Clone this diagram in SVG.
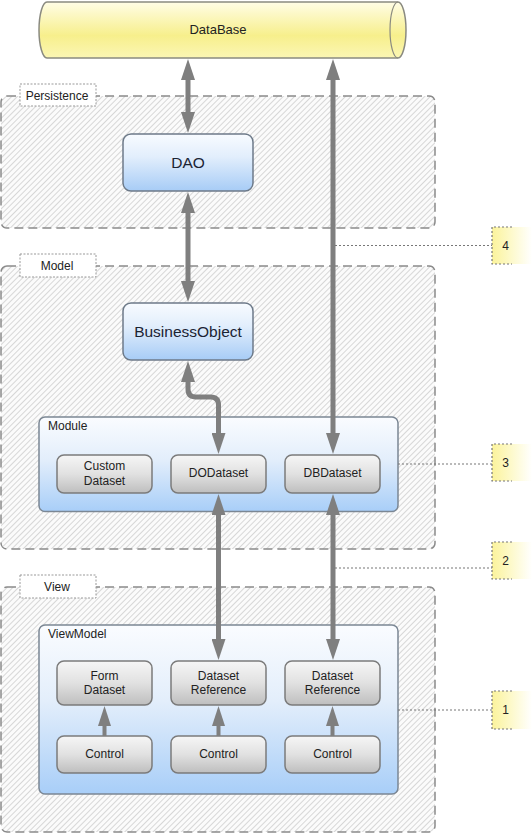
<svg xmlns="http://www.w3.org/2000/svg" width="532" height="834" viewBox="0 0 532 834">
<style>
text{font-family:"Liberation Sans",Arial,sans-serif;fill:#222;}
.c12{font-size:12px;text-anchor:middle;}
.big{font-size:15.5px;text-anchor:middle;fill:#1b2333;}
.lbl{font-size:12px;}
.cont{fill:url(#hatch);stroke:#8a8a8a;stroke-width:1.5;stroke-dasharray:9 5;}
.tag{fill:#fff;stroke:#999;stroke-width:1;stroke-dasharray:2 1.5;}
.node{fill:url(#nodeGrad);stroke:#6d7a89;stroke-width:1.5;}
.panel{fill:url(#panelGrad);stroke:#7b8794;stroke-width:1.5;}
.gray{fill:url(#grayGrad);stroke:#7b7b7b;stroke-width:1.5;}
.arr{fill:none;stroke:#7f7f7f;stroke-width:5;marker-start:url(#ah);marker-end:url(#ah);}
.arrs{fill:none;stroke:#7f7f7f;stroke-width:4;marker-end:url(#ahs);}
.note{fill:none;stroke:#777;stroke-width:1.2;stroke-dasharray:2 2;}
.notefill{fill:url(#noteGrad);}
</style>
<defs>
<pattern id="hatch" patternUnits="userSpaceOnUse" width="4" height="4" patternTransform="rotate(45)">
<rect width="4" height="4" fill="#fbfbfb"/>
<line x1="0.5" y1="0" x2="0.5" y2="4" stroke="#d2d2d2" stroke-width="0.9"/>
</pattern>
<linearGradient id="nodeGrad" x1="0" y1="0" x2="0" y2="1">
<stop offset="0" stop-color="#f8fbff"/><stop offset="0.4" stop-color="#e2eefc"/><stop offset="1" stop-color="#a7ccf6"/>
</linearGradient>
<linearGradient id="panelGrad" x1="0" y1="0" x2="0" y2="1">
<stop offset="0" stop-color="#fafcff"/><stop offset="0.45" stop-color="#e3eefb"/><stop offset="1" stop-color="#a8cef8"/>
</linearGradient>
<linearGradient id="grayGrad" x1="0" y1="0" x2="0" y2="1">
<stop offset="0" stop-color="#f6f6f6"/><stop offset="0.5" stop-color="#e1e1e1"/><stop offset="1" stop-color="#bebebe"/>
</linearGradient>
<linearGradient id="dbGrad" x1="0" y1="0" x2="0" y2="1">
<stop offset="0" stop-color="#fffde6"/><stop offset="0.6" stop-color="#f7ef8c"/><stop offset="1" stop-color="#fbf6b4"/>
</linearGradient>
<linearGradient id="noteGrad" gradientUnits="userSpaceOnUse" x1="492" y1="0" x2="532" y2="0">
<stop offset="0" stop-color="#fbf39c"/><stop offset="0.45" stop-color="#fdf9c8"/><stop offset="1" stop-color="#ffffff"/>
</linearGradient>
<marker id="ah" viewBox="0 0 21 14" refX="0" refY="7" markerWidth="21" markerHeight="14" markerUnits="userSpaceOnUse" orient="auto-start-reverse">
<path d="M0,0 L21,7 L0,14 Z" fill="#7f7f7f"/>
</marker>
<marker id="ahs" viewBox="0 0 20 13" refX="0" refY="6.5" markerWidth="20" markerHeight="13" markerUnits="userSpaceOnUse" orient="auto">
<path d="M0,0 L20,6.5 L0,13 Z" fill="#7f7f7f"/>
</marker>
</defs>

<g id="database">
<path d="M47,2 H398 A8,28 0 0 1 398,58 H47 A8,28 0 0 1 47,2 Z" fill="url(#dbGrad)" stroke="#8a8a80" stroke-width="1.5"/>
<path d="M398,2 A8,28 0 0 0 398,58" fill="none" stroke="#8a8a80" stroke-width="1.2"/>
<text x="218" y="34" class="c12" style="font-size:13px">DataBase</text>
</g>

<g id="persistence">
<rect x="1" y="96" width="434" height="132" rx="6" class="cont"/>
<rect x="20" y="84" width="76" height="22" class="tag"/>
<text x="57" y="99.5" class="c12">Persistence</text>
</g>

<g id="model">
<rect x="1" y="266" width="434" height="283" rx="6" class="cont"/>
<rect x="20" y="254" width="76" height="23" class="tag"/>
<text x="57" y="270" class="c12">Model</text>
</g>

<g id="view">
<rect x="1" y="587" width="434" height="245" rx="6" class="cont"/>
<rect x="20" y="575" width="76" height="23" class="tag"/>
<text x="57" y="591" class="c12">View</text>
</g>

<g id="dao">
<rect x="123" y="134" width="130" height="57" rx="8" class="node"/>
<text x="188" y="168" class="big">DAO</text>
</g>

<g id="businessobject">
<rect x="123" y="303" width="130" height="57" rx="8" class="node"/>
<text x="188" y="337" class="big">BusinessObject</text>
</g>

<g id="module">
<rect x="39" y="417" width="359" height="94.5" rx="6" class="panel"/>
<text x="48" y="430" class="lbl">Module</text>
</g>

<g id="customdataset">
<rect x="57" y="455" width="95" height="38" rx="7" class="gray"/>
<text x="104.5" y="470" class="c12">Custom</text>
<text x="104.5" y="484.5" class="c12">Dataset</text>
</g>

<g id="dodataset">
<rect x="171" y="455" width="95" height="38" rx="7" class="gray"/>
<text x="218.5" y="477" class="c12">DODataset</text>
</g>

<g id="dbdataset">
<rect x="285" y="455" width="95" height="38" rx="7" class="gray"/>
<text x="332.5" y="477" class="c12">DBDataset</text>
</g>

<g id="viewmodel">
<rect x="39" y="625" width="359" height="169" rx="6" class="panel"/>
<text x="48" y="637.5" class="lbl">ViewModel</text>
</g>

<g id="formdataset">
<rect x="57" y="661" width="95" height="44" rx="7" class="gray"/>
<text x="104.5" y="679.5" class="c12">Form</text>
<text x="104.5" y="694" class="c12">Dataset</text>
</g>

<g id="datasetref1">
<rect x="171" y="661" width="95" height="44" rx="7" class="gray"/>
<text x="218.5" y="679.5" class="c12">Dataset</text>
<text x="218.5" y="694" class="c12">Reference</text>
</g>

<g id="datasetref2">
<rect x="285" y="661" width="95" height="44" rx="7" class="gray"/>
<text x="332.5" y="679.5" class="c12">Dataset</text>
<text x="332.5" y="694" class="c12">Reference</text>
</g>

<g id="control1">
<rect x="57" y="736" width="95" height="37" rx="7" class="gray"/>
<text x="104.5" y="758" class="c12">Control</text>
</g>

<g id="control2">
<rect x="171" y="736" width="95" height="37" rx="7" class="gray"/>
<text x="218.5" y="758" class="c12">Control</text>
</g>

<g id="control3">
<rect x="285" y="736" width="95" height="37" rx="7" class="gray"/>
<text x="332.5" y="758" class="c12">Control</text>
</g>

<g id="note4">
<rect x="492" y="227" width="40" height="37" class="notefill"/>
<path d="M512,227 H492 V264 H512" class="note"/>
<text x="505.5" y="249.5" class="c12">4</text>
</g>
<g id="note3">
<rect x="492" y="444" width="40" height="37" class="notefill"/>
<path d="M512,444 H492 V481 H512" class="note"/>
<text x="505.5" y="466.5" class="c12">3</text>
</g>
<g id="note2">
<rect x="492" y="542" width="40" height="37" class="notefill"/>
<path d="M512,542 H492 V579 H512" class="note"/>
<text x="505.5" y="564.5" class="c12">2</text>
</g>
<g id="note1">
<rect x="492" y="691" width="40" height="38" class="notefill"/>
<path d="M512,691 H492 V729 H512" class="note"/>
<text x="505.5" y="714" class="c12">1</text>
</g>

<g id="connectors">
<path d="M188,80 V112" class="arr"/>
<path d="M188,213 V281" class="arr"/>
<path d="M333,80 V433" class="arr"/>
<path d="M188,382 V389 Q188,397 196,397 H210.5 Q218.5,397 218.5,405 V433" class="arr"/>
<path d="M218.5,515 V639" class="arr"/>
<path d="M333,515 V639" class="arr"/>
<path d="M104.5,736 V726" class="arrs"/>
<path d="M218.5,736 V726" class="arrs"/>
<path d="M332.5,736 V726" class="arrs"/>
<path d="M335,245.5 H492" class="note"/>
<path d="M398,464 H492" class="note"/>
<path d="M335,568 H492" class="note"/>
<path d="M398,710 H492" class="note"/>
</g>
</svg>
